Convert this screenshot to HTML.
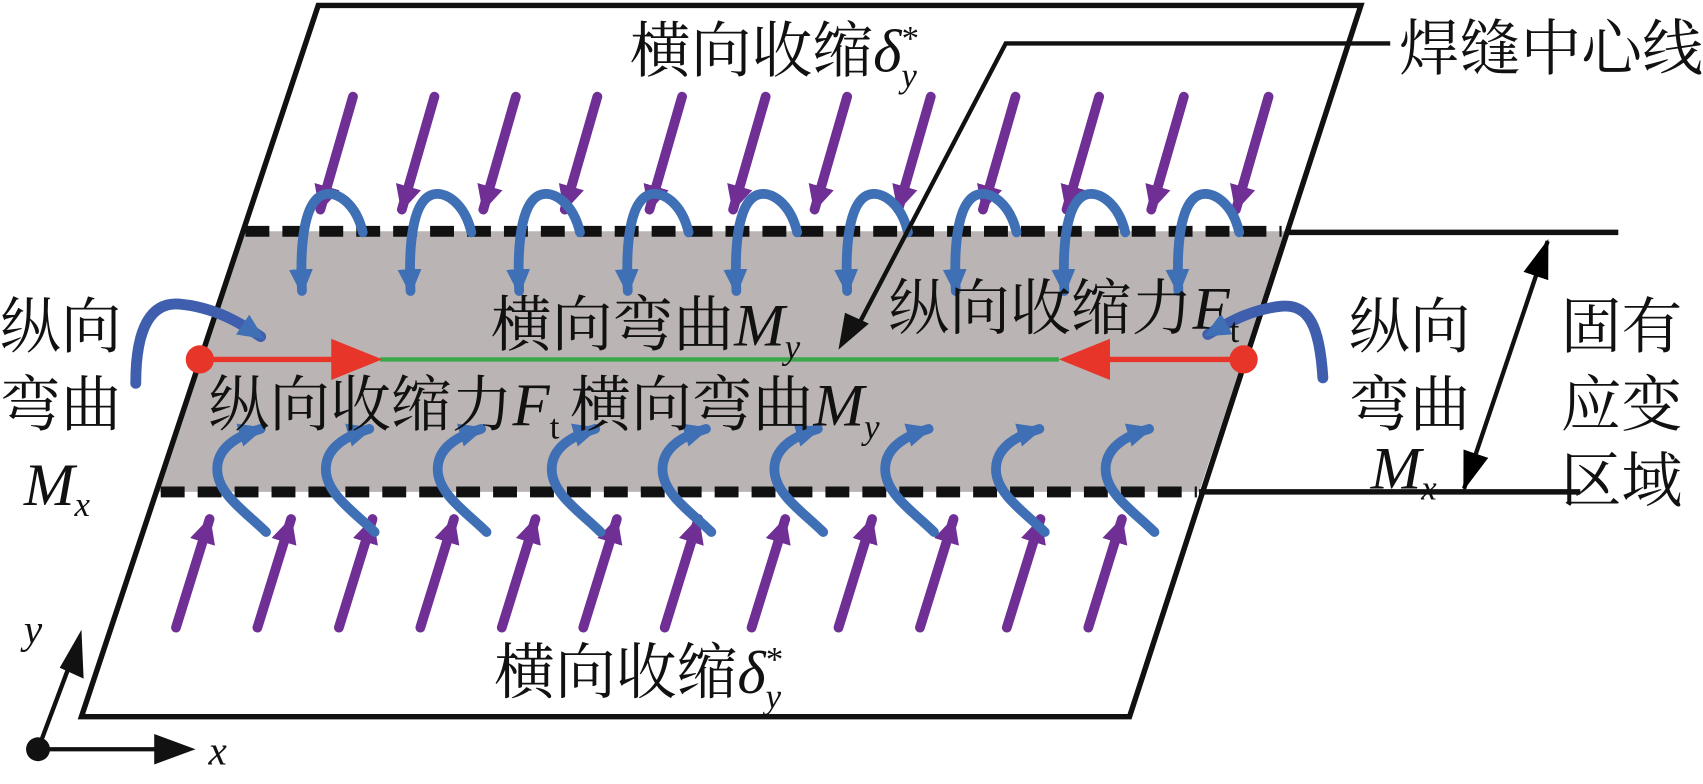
<!DOCTYPE html>
<html><head><meta charset="utf-8"><style>
html,body{margin:0;padding:0;background:#fff;}
svg{display:block;}
text{font-family:"Liberation Serif","Noto Serif CJK SC","Noto Sans CJK SC",serif;fill:#111;}
.it{font-style:italic;}
</style></head><body>
<svg width="1703" height="784" viewBox="0 0 1568 722" preserveAspectRatio="none" xmlns="http://www.w3.org/2000/svg">
<defs>
<marker id="mp" markerUnits="userSpaceOnUse" markerWidth="30" markerHeight="30" refX="22" refY="12" orient="auto"><path d="M0,0 L24,12 L0,24 Z" fill="#6f2f95"/></marker>
<marker id="mb" markerUnits="userSpaceOnUse" markerWidth="30" markerHeight="30" refX="20" refY="11" orient="auto"><path d="M0,0 L24,11 L0,22 Z" fill="#3f6fb5"/></marker>
<marker id="mk" markerUnits="userSpaceOnUse" markerWidth="40" markerHeight="30" refX="34" refY="12" orient="auto-start-reverse"><path d="M0,0 L36,12 L0,24 Z" fill="#000"/></marker>
<g id="tb"><path d="M64,214 C58,188 40,174 26,180 C10,188 6,225 8,268" fill="none" stroke="#3f6fb5" stroke-width="9" stroke-linecap="round" marker-end="url(#mb)"/></g>
<g id="bb"><path d="M0,490 C-18,472 -45,455 -45,432 C-45,410 -22,400 -5,395" fill="none" stroke="#3f6fb5" stroke-width="9" stroke-linecap="round" marker-end="url(#mb)"/></g>
</defs>
<polygon points="224,213 1184,213 1104,453 144,453" fill="#bab5b4"/>
<polygon points="293,5 1253,5 1040,660 75,660" fill="none" stroke="#111" stroke-width="5"/>
<line x1="226" y1="213" x2="1180" y2="213" stroke="#111" stroke-width="10" stroke-dasharray="22,12"/>
<line x1="148" y1="453" x2="1102" y2="453" stroke="#111" stroke-width="10" stroke-dasharray="22,12"/>
<line x1="1184" y1="214" x2="1490" y2="214" stroke="#111" stroke-width="5"/>
<line x1="1104" y1="453" x2="1455" y2="453" stroke="#111" stroke-width="5"/>
<line x1="1348" y1="450" x2="1425" y2="222" stroke="#111" stroke-width="4" marker-end="url(#mk)" marker-start="url(#mk)"/>
<g stroke="#6f2f95" stroke-width="9" stroke-linecap="round" marker-end="url(#mp)">
<line x1="325" y1="89" x2="295" y2="193"/><line x1="400" y1="89" x2="370" y2="193"/><line x1="475" y1="89" x2="445" y2="193"/><line x1="550" y1="89" x2="520" y2="193"/><line x1="628" y1="89" x2="598" y2="193"/><line x1="705" y1="89" x2="675" y2="193"/><line x1="780" y1="89" x2="750" y2="193"/><line x1="857" y1="89" x2="827" y2="193"/><line x1="935" y1="89" x2="905" y2="193"/><line x1="1012" y1="89" x2="982" y2="193"/><line x1="1090" y1="89" x2="1060" y2="193"/><line x1="1168" y1="89" x2="1138" y2="193"/>
</g>
<g stroke="#6f2f95" stroke-width="9" stroke-linecap="round" marker-end="url(#mp)">
<line x1="162" y1="578" x2="193" y2="478"/><line x1="237" y1="578" x2="268" y2="478"/><line x1="312" y1="578" x2="343" y2="478"/><line x1="387" y1="578" x2="418" y2="478"/><line x1="462" y1="578" x2="493" y2="478"/><line x1="537" y1="578" x2="568" y2="478"/><line x1="612" y1="578" x2="643" y2="478"/><line x1="692" y1="578" x2="723" y2="478"/><line x1="772" y1="578" x2="803" y2="478"/><line x1="847" y1="578" x2="878" y2="478"/><line x1="927" y1="578" x2="958" y2="478"/><line x1="1002" y1="578" x2="1033" y2="478"/>
</g>
<use href="#tb" x="270"/><use href="#tb" x="370"/><use href="#tb" x="470"/><use href="#tb" x="570"/><use href="#tb" x="670"/><use href="#tb" x="772"/><use href="#tb" x="872"/><use href="#tb" x="972"/><use href="#tb" x="1077"/>
<use href="#bb" x="245"/><use href="#bb" x="345"/><use href="#bb" x="448"/><use href="#bb" x="553"/><use href="#bb" x="655"/><use href="#bb" x="758"/><use href="#bb" x="860"/><use href="#bb" x="962"/><use href="#bb" x="1063"/>
<path d="M125,353 C125,300 140,278 165,280 C200,283 225,300 240,310" fill="none" stroke="#3f5fae" stroke-width="10" stroke-linecap="round" marker-end="url(#mb)"/>
<path d="M1218,348 C1215,300 1205,280 1180,282 C1150,285 1130,298 1112,308" fill="none" stroke="#3f5fae" stroke-width="10" stroke-linecap="round" marker-end="url(#mb)"/>
<line x1="350" y1="331" x2="975" y2="331" stroke="#3aa84a" stroke-width="4"/>
<line x1="184" y1="331" x2="310" y2="331" stroke="#e8352a" stroke-width="5"/>
<polygon points="305,312 352,331 305,350" fill="#e8352a"/>
<line x1="1145" y1="331" x2="1020" y2="331" stroke="#e8352a" stroke-width="5"/>
<polygon points="1022,312 975,331 1022,350" fill="#e8352a"/>
<circle cx="184" cy="331" r="13" fill="#e8352a"/>
<circle cx="1145" cy="331" r="13" fill="#e8352a"/>
<polyline points="1280,40 926,40 790,300" fill="none" stroke="#111" stroke-width="4"/>
<polygon points="778,288 800,298 772,322" fill="#111"/>
<line x1="35" y1="690" x2="150" y2="690" stroke="#111" stroke-width="4"/>
<polygon points="142,676 180,690 142,704" fill="#111"/>
<line x1="35" y1="690" x2="65" y2="610" stroke="#111" stroke-width="4"/>
<polygon points="55,615 75,580 77,625" fill="#111"/>
<circle cx="35" cy="690" r="11" fill="#111"/>
<text x="192" y="704" font-size="38" class="it">x</text>
<text x="22" y="592" font-size="38" class="it">y</text>
<g font-size="56">
<text x="580" y="66">横向收缩<tspan class="it">δ</tspan><tspan class="it" font-size="32" dy="14">y</tspan><tspan font-size="32" dx="-14" dy="-34">*</tspan></text>
<text x="455" y="638">横向收缩<tspan class="it">δ</tspan><tspan class="it" font-size="32" dy="14">y</tspan><tspan font-size="32" dx="-14" dy="-34">*</tspan></text>
<text x="1288" y="64">焊缝中心线</text>
<text x="452" y="318">横向弯曲<tspan class="it">M</tspan><tspan class="it" font-size="32" dy="12">y</tspan></text>
<text x="818" y="303">纵向收缩力<tspan class="it">F</tspan><tspan font-size="32" dy="12">t</tspan></text>
<text x="192" y="392">纵向收缩力<tspan class="it">F</tspan><tspan font-size="32" dy="12">t</tspan><tspan dy="-12" dx="10">横向弯曲</tspan><tspan class="it">M</tspan><tspan class="it" font-size="32" dy="12">y</tspan></text>
<text x="0" y="320">纵向</text>
<text x="0" y="392">弯曲</text>
<text x="22" y="465" class="it">M<tspan font-size="32" dy="10">x</tspan></text>
<text x="1242" y="320">纵向</text>
<text x="1242" y="392">弯曲</text>
<text x="1262" y="450" class="it">M<tspan font-size="32" dy="10">x</tspan></text>
<text x="1437" y="320">固有</text>
<text x="1437" y="392">应变</text>
<text x="1437" y="462">区域</text>
</g>
</svg>
</body></html>
